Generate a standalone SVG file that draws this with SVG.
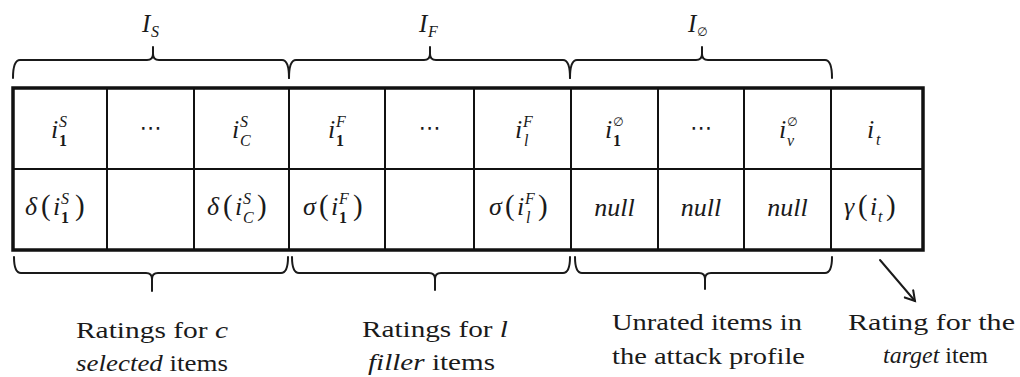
<svg xmlns="http://www.w3.org/2000/svg" width="1020" height="377" viewBox="0 0 1020 377">
<defs>
  <marker id="ah" markerWidth="14" markerHeight="14" refX="11" refY="7" orient="auto" markerUnits="userSpaceOnUse">
    <path d="M1,1 L11,7 L1,13" fill="none" stroke="#1a1a1a" stroke-width="2"/>
  </marker>
</defs>
<rect width="1020" height="377" fill="#fff"/>

<g id="table" stroke="#111" fill="none">
  <g stroke-width="2">
    <line x1="13" y1="169" x2="923" y2="169"/>
    <line x1="107" y1="88" x2="107" y2="250"/>
    <line x1="194" y1="88" x2="194" y2="250"/>
    <line x1="289" y1="88" x2="289" y2="250"/>
    <line x1="385" y1="88" x2="385" y2="250"/>
    <line x1="474" y1="88" x2="474" y2="250"/>
    <line x1="571" y1="88" x2="571" y2="250"/>
    <line x1="658" y1="88" x2="658" y2="250"/>
    <line x1="744" y1="88" x2="744" y2="250"/>
    <line x1="831" y1="88" x2="831" y2="250"/>
  </g>
  <rect x="13" y="88" width="910" height="162" stroke-width="3.5"/>
</g>

<g id="set-labels" fill="#1a1a1a" font-style="italic">
  <g id="label-IS"><text font-family="Liberation Serif" font-size="25" x="142" y="32">I</text><text font-family="Liberation Serif" font-size="16" x="151" y="37">S</text></g>
  <g id="label-IF"><text font-family="Liberation Serif" font-size="25" x="419" y="32">I</text><text font-family="Liberation Serif" font-size="16" x="428" y="37">F</text></g>
  <g id="label-I0"><text font-family="Liberation Serif" font-size="25" x="688" y="32">I</text><text font-family="DejaVu Sans" font-style="normal" font-size="12" x="697" y="36">∅</text></g>
</g>

<g id="row-items" fill="#1a1a1a">
  <g id="cell-i1S"><text font-family="Liberation Serif" font-style="italic" font-size="26" x="51" y="138">i</text><text font-family="Liberation Serif" font-style="italic" font-size="16" x="59" y="127">S</text><text font-family="Liberation Serif" font-weight="bold" font-size="16" x="59" y="146">1</text></g>
  <g id="cell-dots1"><text font-family="DejaVu Sans" font-size="22" x="150.5" y="135" text-anchor="middle">⋯</text></g>
  <g id="cell-icS"><text font-family="Liberation Serif" font-style="italic" font-size="26" x="232" y="138">i</text><text font-family="Liberation Serif" font-style="italic" font-size="16" x="240" y="127">S</text><text font-family="Liberation Serif" font-style="italic" font-size="16" x="240" y="146">C</text></g>
  <g id="cell-i1F"><text font-family="Liberation Serif" font-style="italic" font-size="26" x="328" y="138">i</text><text font-family="Liberation Serif" font-style="italic" font-size="16" x="336" y="127">F</text><text font-family="Liberation Serif" font-weight="bold" font-size="16" x="336" y="146">1</text></g>
  <g id="cell-dots2"><text font-family="DejaVu Sans" font-size="22" x="429.5" y="135" text-anchor="middle">⋯</text></g>
  <g id="cell-ilF"><text font-family="Liberation Serif" font-style="italic" font-size="26" x="515" y="138">i</text><text font-family="Liberation Serif" font-style="italic" font-size="16" x="523" y="127">F</text><text font-family="Liberation Serif" font-style="italic" font-size="16" x="524" y="146">l</text></g>
  <g id="cell-i10"><text font-family="Liberation Serif" font-style="italic" font-size="26" x="605" y="138">i</text><text font-family="DejaVu Sans" font-size="12" x="613" y="126">∅</text><text font-family="Liberation Serif" font-weight="bold" font-size="16" x="613" y="146">1</text></g>
  <g id="cell-dots3"><text font-family="DejaVu Sans" font-size="22" x="701" y="135" text-anchor="middle">⋯</text></g>
  <g id="cell-iv0"><text font-family="Liberation Serif" font-style="italic" font-size="26" x="779" y="138">i</text><text font-family="DejaVu Sans" font-size="12" x="787" y="126">∅</text><text font-family="Liberation Serif" font-style="italic" font-size="16" x="787" y="146">v</text></g>
  <g id="cell-it"><text font-family="Liberation Serif" font-style="italic" font-size="26" x="867" y="138">i</text><text font-family="Liberation Serif" font-style="italic" font-size="16" x="876" y="145">t</text></g>
</g>

<g id="row-ratings" fill="#1a1a1a">
  <g id="cell-d1"><text font-family="Liberation Serif" font-style="italic" font-size="26" x="25" y="215">δ</text><text font-family="Liberation Serif" font-size="29" x="41" y="215">(</text><text font-family="Liberation Serif" font-style="italic" font-size="26" x="53" y="215">i</text><text font-family="Liberation Serif" font-style="italic" font-size="16" x="61" y="204">S</text><text font-family="Liberation Serif" font-weight="bold" font-size="16" x="61" y="223">1</text><text font-family="Liberation Serif" font-size="29" x="75" y="215">)</text></g>
  <g id="cell-dc"><text font-family="Liberation Serif" font-style="italic" font-size="26" x="207" y="215">δ</text><text font-family="Liberation Serif" font-size="29" x="223" y="215">(</text><text font-family="Liberation Serif" font-style="italic" font-size="26" x="235" y="215">i</text><text font-family="Liberation Serif" font-style="italic" font-size="16" x="243" y="204">S</text><text font-family="Liberation Serif" font-style="italic" font-size="16" x="243" y="223">C</text><text font-family="Liberation Serif" font-size="29" x="257" y="215">)</text></g>
  <g id="cell-s1"><text font-family="Liberation Serif" font-style="italic" font-size="26" x="303" y="215">σ</text><text font-family="Liberation Serif" font-size="29" x="319" y="215">(</text><text font-family="Liberation Serif" font-style="italic" font-size="26" x="331" y="215">i</text><text font-family="Liberation Serif" font-style="italic" font-size="16" x="339" y="204">F</text><text font-family="Liberation Serif" font-weight="bold" font-size="16" x="339" y="223">1</text><text font-family="Liberation Serif" font-size="29" x="353" y="215">)</text></g>
  <g id="cell-sl"><text font-family="Liberation Serif" font-style="italic" font-size="26" x="489" y="215">σ</text><text font-family="Liberation Serif" font-size="29" x="505" y="215">(</text><text font-family="Liberation Serif" font-style="italic" font-size="26" x="517" y="215">i</text><text font-family="Liberation Serif" font-style="italic" font-size="16" x="525" y="204">F</text><text font-family="Liberation Serif" font-style="italic" font-size="16" x="526" y="223">l</text><text font-family="Liberation Serif" font-size="29" x="538" y="215">)</text></g>
  <g id="cell-n1"><text font-family="Liberation Serif" font-style="italic" font-size="26" x="614.5" y="216" text-anchor="middle">null</text></g>
  <g id="cell-n2"><text font-family="Liberation Serif" font-style="italic" font-size="26" x="701" y="216" text-anchor="middle">null</text></g>
  <g id="cell-n3"><text font-family="Liberation Serif" font-style="italic" font-size="26" x="787.5" y="216" text-anchor="middle">null</text></g>
  <g id="cell-g"><text font-family="Liberation Serif" font-style="italic" font-size="26" x="844" y="215">γ</text><text font-family="Liberation Serif" font-size="29" x="858" y="215">(</text><text font-family="Liberation Serif" font-style="italic" font-size="26" x="870" y="215">i</text><text font-family="Liberation Serif" font-style="italic" font-size="16" x="878" y="222">t</text><text font-family="Liberation Serif" font-size="29" x="886" y="215">)</text></g>
</g>

<g id="connectors" stroke="#1a1a1a" stroke-width="2" fill="none" stroke-linejoin="round" stroke-linecap="round">
  <path d="M13,78 Q13,60 20,60 L147,60 Q153,60 153,54 L153,47 M153,54 Q153,60 159,60 L282,60 Q289,60 289,78"/>
  <path d="M289,78 Q289,60 296,60 L424,60 Q430,60 430,54 L430,47 M430,54 Q430,60 436,60 L563,60 Q570,60 570,78"/>
  <path d="M570,78 Q570,60 577,60 L696,60 Q702,60 702,54 L702,47 M702,54 Q702,60 708,60 L825,60 Q832,60 832,78"/>
  <path d="M14,257 Q14,273 21,273 L146,273 Q152,273 152,279 L152,291 M152,279 Q152,273 158,273 L281,273 Q288,273 288,257"/>
  <path d="M292,257 Q292,273 299,273 L429,273 Q435,273 435,279 L435,290 M435,279 Q435,273 441,273 L563,273 Q570,273 570,257"/>
  <path d="M575,257 Q575,273 582,273 L699,273 Q705,273 705,279 L705,289 M705,279 Q705,273 711,273 L825,273 Q832,273 832,257"/>
  <line x1="880" y1="260" x2="915" y2="301" marker-end="url(#ah)"/>
</g>

<g id="captions" fill="#1a1a1a" font-size="24">
  <g id="cap-selected">
    <text font-family="Liberation Serif" x="76" y="338" textLength="152" lengthAdjust="spacingAndGlyphs">Ratings for <tspan font-style="italic">c</tspan></text>
    <text font-family="Liberation Serif" x="76" y="371" textLength="152" lengthAdjust="spacingAndGlyphs"><tspan font-style="italic">selected</tspan> items</text>
  </g>
  <g id="cap-filler">
    <text font-family="Liberation Serif" x="362" y="337" textLength="146" lengthAdjust="spacingAndGlyphs">Ratings for <tspan font-style="italic">l</tspan></text>
    <text font-family="Liberation Serif" x="368" y="370" textLength="127" lengthAdjust="spacingAndGlyphs"><tspan font-style="italic">filler</tspan> items</text>
  </g>
  <g id="cap-unrated">
    <text font-family="Liberation Serif" x="612" y="330" textLength="190" lengthAdjust="spacingAndGlyphs">Unrated items in</text>
    <text font-family="Liberation Serif" x="612" y="364" textLength="193" lengthAdjust="spacingAndGlyphs">the attack profile</text>
  </g>
  <g id="cap-target">
    <text font-family="Liberation Serif" x="848" y="330" textLength="167" lengthAdjust="spacingAndGlyphs">Rating for the</text>
    <text font-family="Liberation Serif" x="883" y="363" textLength="105" lengthAdjust="spacingAndGlyphs"><tspan font-style="italic">target</tspan> item</text>
  </g>
</g>
</svg>
